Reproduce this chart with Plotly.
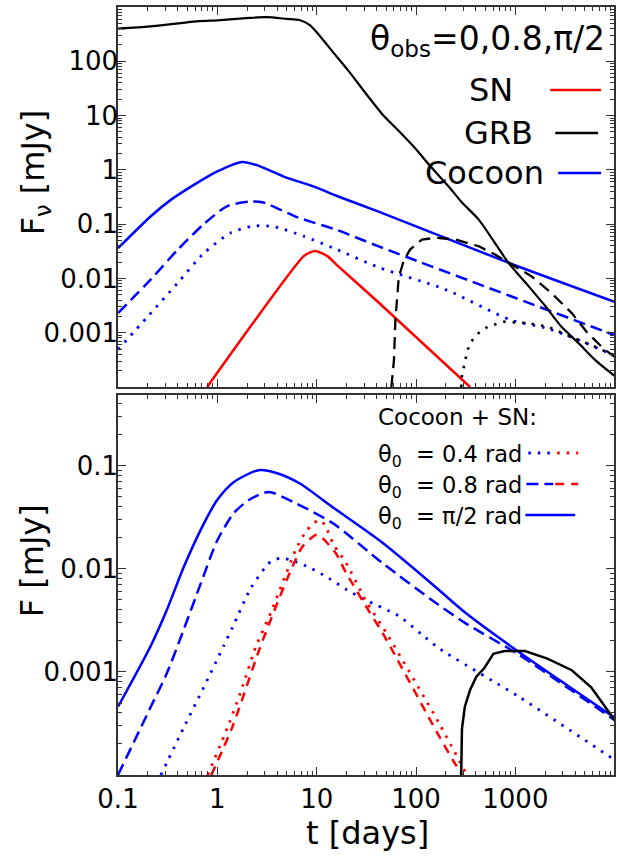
import plotly.graph_objects as go

# ---------------- data ----------------
# Top panel: theta_obs = 0 (solid), 0.8 (dashed), pi/2 (dotted)
t_grb_0 = [0.1, 0.21, 0.66, 1.0, 2.1, 3.1, 5.0, 6.7, 8.4, 9.8, 14.4, 21, 31, 46, 67, 98, 144, 212, 290, 430, 850, 1350, 2000, 2900, 4300, 6300, 9200, 10000]
F_grb_0 = [400, 440, 550, 569, 630, 650, 605, 575, 474, 357, 152, 66, 26, 10.5, 5.2, 2.5, 1.09, 0.50, 0.25, 0.12, 0.0195, 0.0073, 0.0031, 0.0013, 6.5e-4, 3.2e-4, 1.8e-4, 1.6e-4]

t_grb_08 = [56.5, 60, 62, 67, 75, 87, 115, 157, 250, 430, 625, 910, 1450, 2300, 3700, 5300, 7900, 10000]
F_grb_08 = [1e-4, 3.2e-4, 0.0017, 0.0105, 0.021, 0.034, 0.052, 0.056, 0.052, 0.039, 0.0275, 0.018, 0.011, 0.0054, 0.0023, 0.001, 4.9e-4, 3.6e-4]

t_grb_pi2 = [285, 290, 325, 350, 430, 530, 780, 1330, 2100, 2900, 4300, 5800, 8500, 10000]
F_grb_pi2 = [1e-4, 1.6e-4, 4.3e-4, 6.5e-4, 0.001, 0.0013, 0.0016, 0.0015, 0.0013, 0.001, 7.4e-4, 5.9e-4, 4.3e-4, 3.8e-4]

t_coc_0 = [0.1, 0.214, 0.34, 0.58, 1.0, 1.78, 2.5, 4.6, 10, 16, 42, 850, 10000]
F_coc_0 = [0.036, 0.14, 0.28, 0.53, 0.94, 1.40, 1.22, 0.76, 0.47, 0.33, 0.17, 0.0195, 0.0037]

t_coc_08 = [0.1, 0.214, 0.4, 0.73, 1.26, 2.16, 2.9, 6.3, 16, 42, 10000]
F_coc_08 = [0.0023, 0.0096, 0.034, 0.1, 0.215, 0.26, 0.25, 0.135, 0.078, 0.039, 9e-4]

t_coc_pi2 = [0.1, 0.2, 0.4, 0.73, 1.36, 2.3, 3.7, 7.4, 15.4, 42, 196, 910, 2000, 4300, 8500, 10000]
F_coc_pi2 = [4.9e-4, 0.002, 0.0083, 0.029, 0.069, 0.092, 0.090, 0.060, 0.035, 0.016, 0.0063, 0.0017, 0.00123, 7.4e-4, 4.3e-4, 3.8e-4]

t_sn = [0.79, 7.4, 8.5, 9.7, 12.7, 16, 42, 350]
F_sn = [1e-4, 0.0257, 0.030, 0.032, 0.026, 0.0176, 0.0036, 1e-4]

# Bottom panel: Cocoon + SN for theta_0 = 0.4, 0.8, pi/2
t_b_pi2 = [0.1, 0.214, 0.31, 0.46, 0.68, 1.0, 1.47, 2.6, 4.0, 6.7, 14.4, 46, 144, 310, 1050, 10000]
F_b_pi2 = [4.6e-4, 0.0018, 0.004, 0.0105, 0.024, 0.047, 0.070, 0.091, 0.085, 0.068, 0.040, 0.018, 0.0072, 0.0038, 0.0016, 3.6e-4]

t_b_08 = [0.1, 0.214, 0.31, 0.46, 0.68, 1.0, 1.47, 2.1, 3.3, 5.7, 14.4, 46, 144, 310, 1050, 10000]
F_b_08 = [1e-4, 4.6e-4, 9.7e-4, 0.0026, 0.0072, 0.019, 0.035, 0.047, 0.056, 0.045, 0.028, 0.0114, 0.005, 0.003, 0.0015, 3.4e-4]

t_b_04 = [0.27, 0.46, 0.73, 1.16, 1.42, 2.17, 3.45, 4.35, 5.5, 8.7, 13.3, 20, 31, 67, 115, 170, 1100, 10000]
F_b_04 = [1e-4, 2.9e-4, 7.1e-4, 0.0018, 0.0027, 0.0065, 0.0118, 0.0127, 0.0122, 0.0102, 0.0081, 0.0063, 0.005, 0.0035, 0.0023, 0.0017, 5.7e-4, 1.4e-4]

t_sn_04 = [0.80, 1.32, 1.79, 2.44, 3.32, 4.52, 6.15, 7.76, 9.4, 10.5, 12.0, 14.9, 19.5, 31, 53, 170, 325]
F_sn_04 = [1e-4, 3.2e-4, 7.2e-4, 0.00176, 0.00344, 0.00726, 0.0153, 0.023, 0.0278, 0.030, 0.027, 0.017, 0.0117, 0.005, 0.0022, 3.2e-4, 1e-4]

t_sn_08 = [0.87, 1.42, 2.64, 3.88, 5.69, 7.2, 9.8, 11.0, 15.6, 19.5, 33, 46, 170, 240, 290]
F_sn_08 = [1e-4, 2.95e-4, 0.00164, 0.0043, 0.0105, 0.0165, 0.0214, 0.0206, 0.0142, 0.0094, 0.004, 0.0024, 2.4e-4, 1.35e-4, 1e-4]

t_grb_b = [285, 290, 310, 350, 405, 490, 600, 780, 1250, 2100, 3700, 5800, 10000]
F_grb_b = [1e-4, 2.8e-4, 4.6e-4, 6.7e-4, 9e-4, 0.0011, 0.0015, 0.0016, 0.0016, 0.00135, 0.00104, 7.1e-4, 3.4e-4]

x_ticks = [0.1, 1, 10, 100, 1000]
x_ticktext = ["0.1", "1", "10", "100", "1000"]
y_top_ticks = [0.001, 0.01, 0.1, 1, 10, 100]
y_top_ticktext = ["0.001", "0.01", "0.1", "1", "10", "100"]
y_bot_ticks = [0.001, 0.01, 0.1]
y_bot_ticktext = ["0.001", "0.01", "0.1"]

# ---------------- styling ----------------
BLUE = "#0000ff"
RED = "#ff0000"
BLACK = "#000000"
DOT = "2.5px,7px"
DASH = "12px,6px"
FONT = "DejaVu Sans"
AX = "#333333"

fig = go.Figure()


def add(t, F, color, dash, width, xa, ya, smooth=True):
    line = dict(color=color, dash=dash, width=width)
    if smooth:
        line.update(shape="spline", smoothing=0.7)
    fig.add_trace(go.Scatter(x=t, y=F, mode="lines", line=line,
                             xaxis=xa, yaxis=ya, showlegend=False, hoverinfo="skip"))


# top panel
add(t_sn, F_sn, RED, "solid", 2.5, "x2", "y2")
add(t_coc_pi2, F_coc_pi2, BLUE, DOT, 2.8, "x2", "y2")
add(t_coc_08, F_coc_08, BLUE, DASH, 2.5, "x2", "y2")
add(t_coc_0, F_coc_0, BLUE, "solid", 2.5, "x2", "y2")
add(t_grb_pi2, F_grb_pi2, BLACK, DOT, 2.6, "x2", "y2", smooth=False)
add(t_grb_08, F_grb_08, BLACK, "12px,7px", 2.3, "x2", "y2", smooth=False)
add(t_grb_0, F_grb_0, BLACK, "solid", 2.2, "x2", "y2")

# bottom panel
add(t_b_04, F_b_04, BLUE, DOT, 2.8, "x", "y")
add(t_b_08, F_b_08, BLUE, DASH, 2.5, "x", "y")
add(t_b_pi2, F_b_pi2, BLUE, "solid", 2.5, "x", "y")
add(t_sn_04, F_sn_04, RED, DOT, 2.8, "x", "y")
add(t_sn_08, F_sn_08, RED, "9px,7px", 2.5, "x", "y")
add(t_grb_b, F_grb_b, BLACK, "solid", 2.5, "x", "y", smooth=False)

minor_x = [k * 10.0 ** e for e in range(-1, 4) for k in range(2, 10)]
minor_y_top = [k * 10.0 ** e for e in range(-4, 3) for k in range(2, 10)]
minor_y_bot = [k * 10.0 ** e for e in range(-4, 0) for k in range(2, 10)]

common = dict(type="log", showline=True, linecolor=AX, linewidth=1.5, mirror="allticks",
              ticks="inside", ticklen=8, tickwidth=1.2, tickcolor=AX,
              showgrid=False, zeroline=False,
              tickfont=dict(family=FONT, size=26, color="black"))

fig.update_layout(
    width=617, height=856,
    margin=dict(l=118, r=1, t=7, b=81),
    paper_bgcolor="white", plot_bgcolor="white",
    font=dict(family=FONT, color="black"),
    xaxis=dict(common, range=[-1, 3.993], anchor="y", domain=[0, 1],
               tickmode="array", tickvals=x_ticks, ticktext=x_ticktext,
               minor=dict(tickmode="array", tickvals=minor_x, ticks="inside", ticklen=4, tickcolor=AX, showgrid=False)),
    xaxis2=dict(common, range=[-1, 3.993], anchor="y2", domain=[0, 1], matches="x",
                tickmode="array", tickvals=x_ticks, showticklabels=False,
                minor=dict(tickmode="array", tickvals=minor_x, ticks="inside", ticklen=4, tickcolor=AX, showgrid=False)),
    yaxis=dict(common, range=[-4, -0.311], anchor="x", domain=[0, 0.4948], ticklabelstandoff=-7,
               tickmode="array", tickvals=y_bot_ticks, ticktext=y_bot_ticktext,
               minor=dict(tickmode="array", tickvals=minor_y_bot, ticks="inside", ticklen=4, tickcolor=AX, showgrid=False)),
    yaxis2=dict(common, range=[-4, 3], anchor="x2", domain=[0.5052, 1], ticklabelstandoff=-7,
                tickmode="array", tickvals=y_top_ticks, ticktext=y_top_ticktext,
                minor=dict(tickmode="array", tickvals=minor_y_top, ticks="inside", ticklen=4, tickcolor=AX, showgrid=False)),
)

# ---- axis titles (annotations) ----
def px_x(sx):
    return (sx - 118) / 498.0


def px_y(sy):
    return (775 - sy) / 768.0


ann = []
ann.append(dict(text="F<sub>ν</sub> [mJy]", x=px_x(35), y=px_y(172), xref="paper", yref="paper",
                textangle=-90, showarrow=False, font=dict(size=32, family=FONT), xanchor="center", yanchor="middle"))
ann.append(dict(text="F [mJy]", x=px_x(32), y=px_y(561), xref="paper", yref="paper",
                textangle=-90, showarrow=False, font=dict(size=32, family=FONT), xanchor="center", yanchor="middle"))
ann.append(dict(text="t [days]", x=px_x(369), y=px_y(833), xref="paper", yref="paper",
                showarrow=False, font=dict(size=32, family=FONT), xanchor="center", yanchor="middle"))

# ---- top legend ----
ann.append(dict(text="θ<sub>obs</sub>=0,0.8,π/2", x=px_x(609), y=px_y(40), xref="paper", yref="paper",
                showarrow=False, font=dict(size=33, family=FONT), xanchor="right", yanchor="middle"))
top_leg = [("SN", RED, 517, 90, 552, 603), ("GRB", BLACK, 537, 133, 557, 600), ("Cocoon", BLUE, 548, 173, 560, 603)]
shapes = []
for lab, col, xr, yc, l0, l1 in top_leg:
    ann.append(dict(text=lab, x=px_x(xr), y=px_y(yc), xref="paper", yref="paper", showarrow=False,
                    font=dict(size=32, family=FONT), xanchor="right", yanchor="middle"))
    shapes.append(dict(type="line", xref="paper", yref="paper", x0=px_x(l0), x1=px_x(l1),
                       y0=px_y(yc), y1=px_y(yc), line=dict(color=col, width=2.5)))

# ---- bottom legend ----
ann.append(dict(text="Cocoon + SN:", x=px_x(377), y=px_y(417), xref="paper", yref="paper", showarrow=False,
                font=dict(size=23, family=FONT), xanchor="left", yanchor="middle"))
bot_leg = [("θ<sub>0</sub>\u00a0\u00a0= 0.4 rad", 453, DOT, DOT, 530, 557, 580),
           ("θ<sub>0</sub>\u00a0\u00a0= 0.8 rad", 484, DASH, "9px,7px", 528, 555, 580),
           ("θ<sub>0</sub>\u00a0\u00a0= π/2 rad", 515, "solid", None, 527, 577, 577)]
for lab, yc, d1, d2, a, b, c in bot_leg:
    ann.append(dict(text=lab, x=px_x(377), y=px_y(yc + 3), xref="paper", yref="paper", showarrow=False,
                    font=dict(size=22.5, family=FONT), xanchor="left", yanchor="middle"))
    shapes.append(dict(type="line", xref="paper", yref="paper", x0=px_x(a), x1=px_x(b),
                       y0=px_y(yc), y1=px_y(yc), line=dict(color=BLUE, width=2.8 if d1 == DOT else 2.5, dash=d1)))
    if d2 is not None:
        shapes.append(dict(type="line", xref="paper", yref="paper", x0=px_x(b + 2), x1=px_x(c),
                           y0=px_y(yc), y1=px_y(yc), line=dict(color=RED, width=2.8 if d2 == DOT else 2.5, dash=d2)))

fig.update_layout(annotations=ann, shapes=shapes)

fig.write_html("out.html", config={"displayModeBar": False},
               post_script="document.body.style.margin='0';document.body.style.overflow='hidden';")
